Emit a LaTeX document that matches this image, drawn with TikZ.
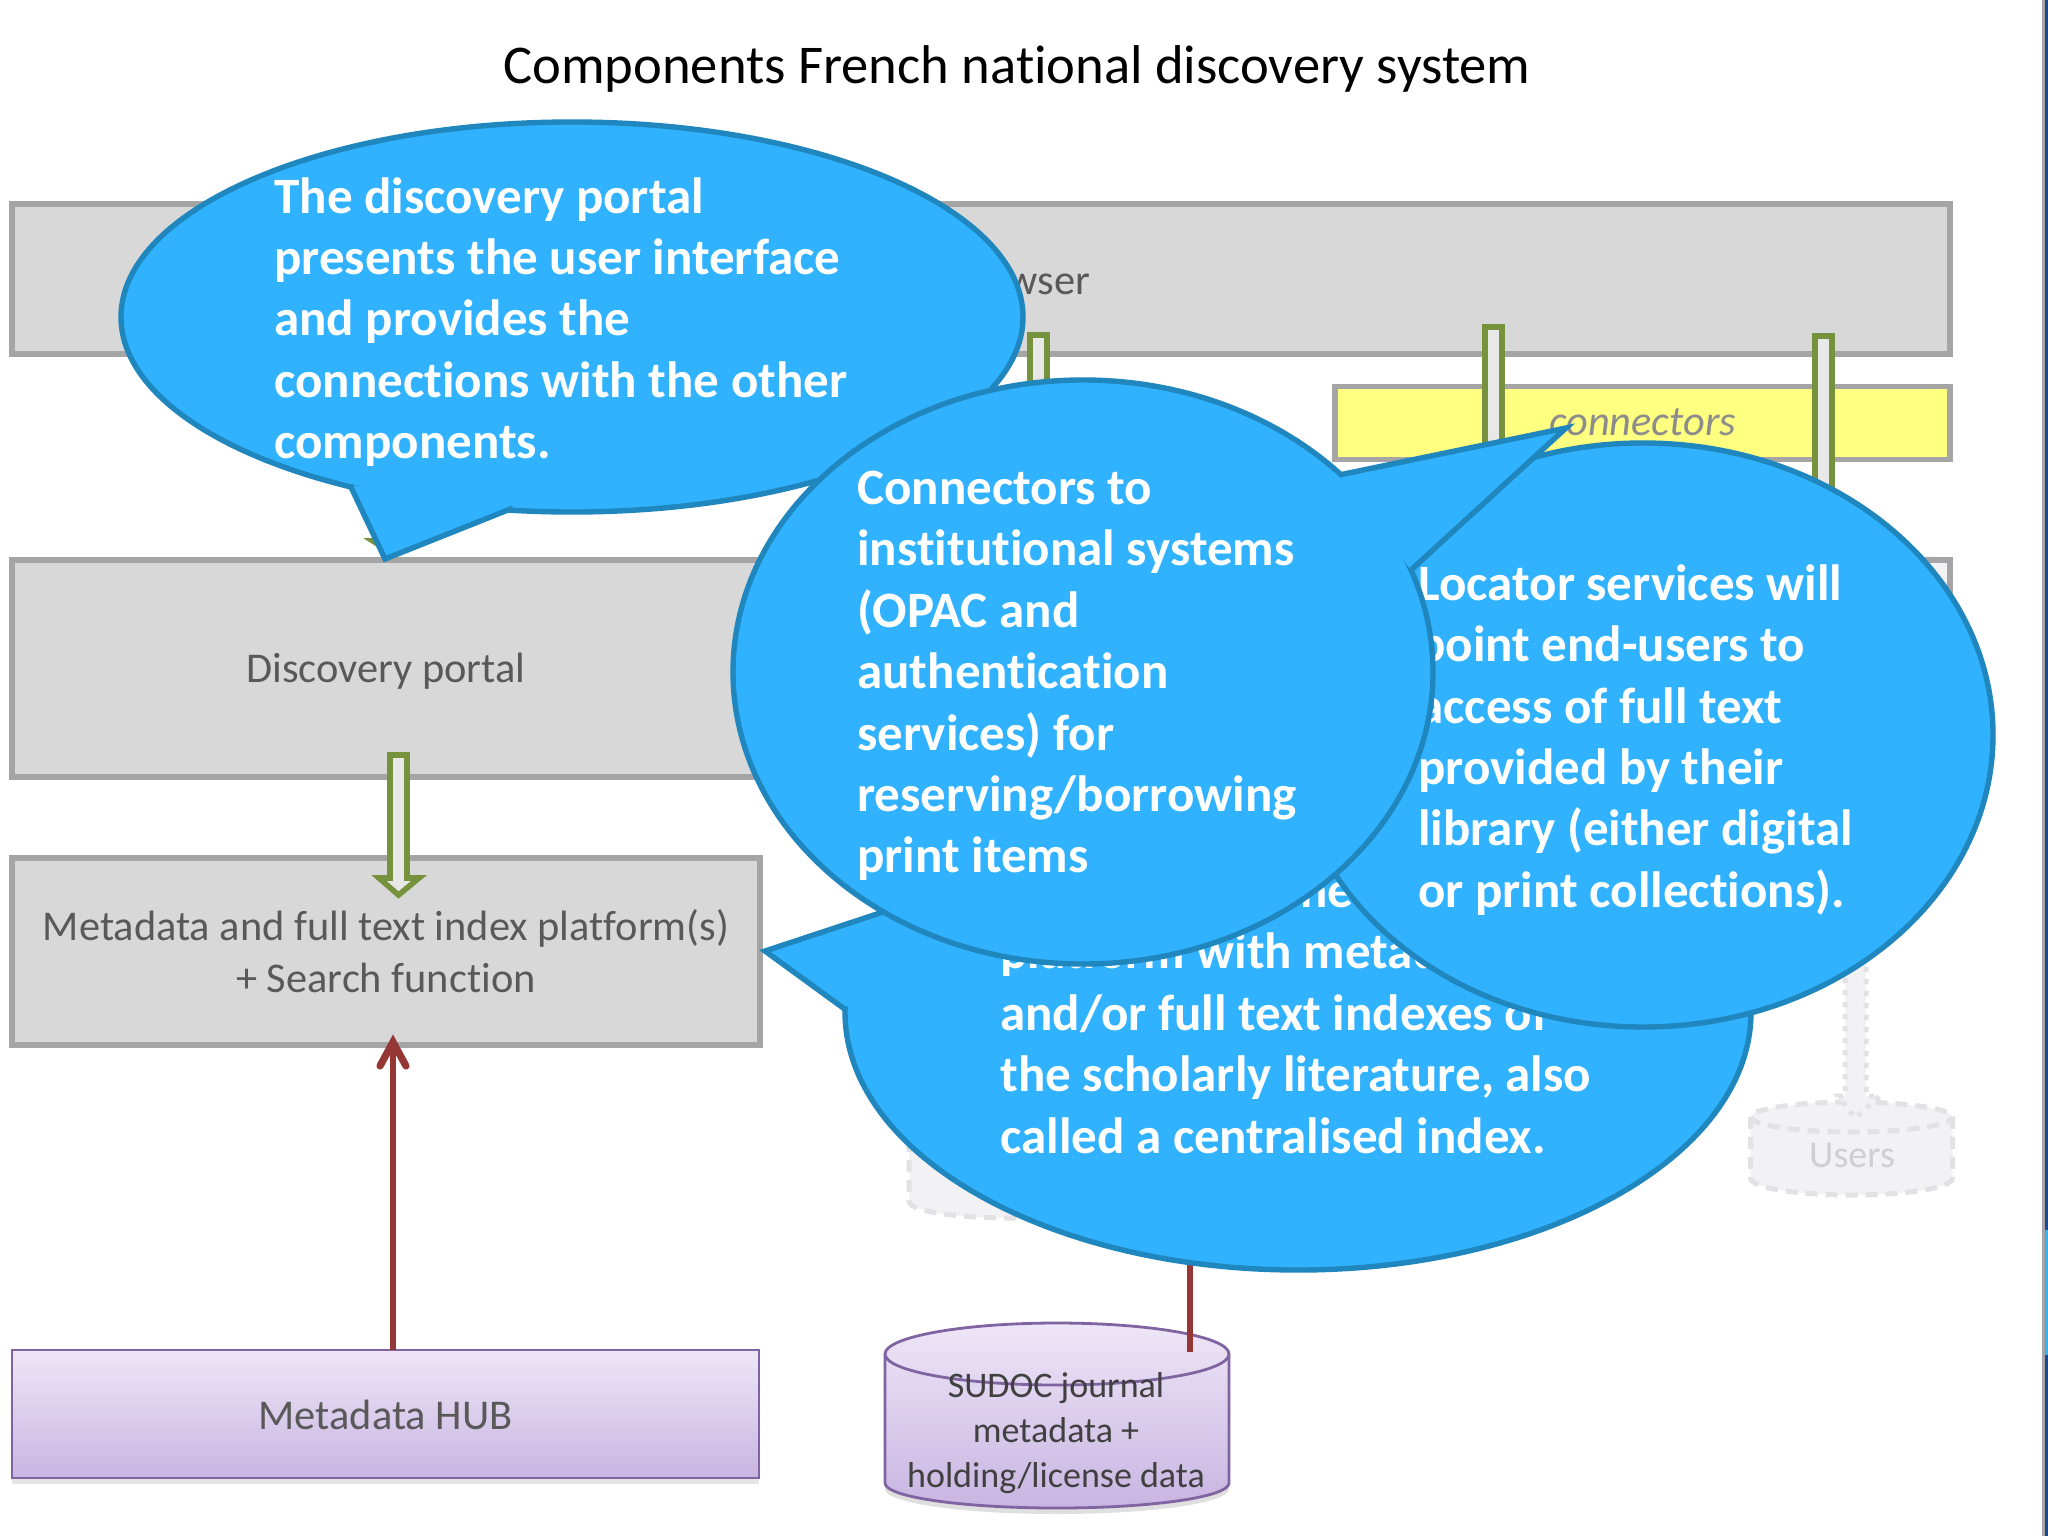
\documentclass[tikz,border=0pt]{standalone}
\usepackage{fontspec}
\setmainfont{Carlito}[Ligatures=NoCommon]
\usetikzlibrary{shapes.geometric,arrows.meta,shadows}

\definecolor{boxfill}{HTML}{D9D8D9}
\definecolor{boxline}{HTML}{A6A5A6}
\definecolor{boxtext}{HTML}{595959}
\definecolor{olive}{HTML}{76923C}
\definecolor{brick}{HTML}{953735}
\definecolor{hubline}{HTML}{8064A2}
\definecolor{hubtop}{HTML}{EEE6F7}
\definecolor{hubbot}{HTML}{C8B5E2}
\definecolor{bubfill}{HTML}{30B2FF}
\definecolor{bubline}{HTML}{1F86BE}
\definecolor{faint}{HTML}{F2F2F4}
\definecolor{faintline}{HTML}{E2E1E4}
\definecolor{faintext}{HTML}{CFCFD3}
\definecolor{connfill}{HTML}{FFFF80}
\definecolor{edgedark}{HTML}{1B4A94}
\definecolor{edgelight}{HTML}{3BAEEE}

\tikzset{
  box/.style={draw=boxline,fill=boxfill,line width=2.8pt,inner sep=0pt,outer sep=0pt,
    text=boxtext,align=center,font=\fontsize{21.2}{26}\selectfont},
  hub/.style={draw=hubline,line width=1.4pt,top color=hubtop,bottom color=hubbot,
    inner sep=0pt,outer sep=0pt,text=boxtext,font=\fontsize{21.2}{26}\selectfont},
  label/.style={text=boxtext,inner sep=0pt,font=\fontsize{21.2}{26}\selectfont},
  block/.style={draw=olive,fill=boxfill!60!white,line width=2.8pt,miter limit=10},
  redline/.style={draw=brick,line width=3pt},
  bubble/.style={ellipse,draw=bubline,fill=bubfill,line width=2.7pt,inner sep=0pt,outer sep=0pt},
  bubtext/.style={anchor=west,inner sep=0pt,align=left,text=white,
    font=\fontsize{25.5}{30.7}\selectfont\bfseries},
  cylline/.style={draw=hubline,line width=1.4pt},
}

% tail of a callout: covers the ellipse outline between the two base points
\newcommand{\bubtail}[3]{
  \fill[bubfill] (#1) -- (#2) -- (#3) -- cycle;
  \draw[bubline,line width=2.7pt,line join=miter] (#1) -- (#2) -- (#3);
}
% greyed out, dashed cylinder, #1 is the centre of its top
\newcommand{\fadedcyl}[1]{
  \begin{scope}[shift={#1}]
    \draw[faintline,fill=faint,line width=2.5pt,dash pattern=on 6pt off 4pt]
      (-101,0) -- (-101,61) .. controls (-101,71) and (-55,78) .. (0,78)
      .. controls (55,78) and (101,71) .. (101,61) -- (101,0)
      .. controls (101,-8) and (55,-15) .. (0,-15)
      .. controls (-55,-15) and (-101,-8) .. (-101,0) -- cycle;
    \draw[faintline,line width=2.5pt,dash pattern=on 6pt off 4pt]
      (-101,0) .. controls (-101,8) and (-55,15) .. (0,15)
      .. controls (55,15) and (101,8) .. (101,0);
  \end{scope}
}

\begin{document}
\begin{tikzpicture}[x=0.5pt,y=-0.5pt]
\useasboundingbox (0,0) rectangle (2048,1536);
\fill[white] (0,0) rectangle (2048,1536);

% slide edge
\fill[boxline] (2042,0) rectangle (2044.5,1536);
\fill[edgedark] (2044.5,0) rectangle (2048,1536);
\fill[edgelight] (2044.5,1230) rectangle (2048,1355);

\node[text=black,inner sep=0pt,font=\fontsize{27.3}{34}\selectfont] (title) at (1017,69)
  {Components French national discovery system};

% boxes
\node[box,minimum width=969pt,minimum height=74.75pt] (browser) at (981,279) {};
\node[label] (browsertext) at (1019,281) {Browser};
\node[box,minimum width=307.5pt,minimum height=36.5pt,fill=connfill,
  text=black!45,font=\fontsize{21.2}{26}\selectfont\itshape] (conn) at (1642.5,423) {\raisebox{-6pt}[0pt][0pt]{connectors}};
\node[box,minimum width=275pt,minimum height=108.5pt,fill=faint] (locbox) at (1675,668.5) {};
\node[box,minimum width=374pt,minimum height=108.5pt] (portal) at (386,668.5) {\raisebox{-7pt}[0pt][0pt]{Discovery portal}};
\node[box,minimum width=374pt,minimum height=93.5pt] (index) at (386,951.5)
  {Metadata and full text index platform(s)\\+ Search function};
\node[hub,drop shadow={shadow xshift=0pt,shadow yshift=-3pt,opacity=.2},
  minimum width=373.5pt,minimum height=64pt] (hub) at (385.5,1414) {\raisebox{-7.5pt}[0pt][0pt]{Metadata HUB}};

% block arrows
\draw[block] (385,350) -- (403,350) -- (403,541) -- (418,541) -- (392,553)
  -- (373,541) -- (385,541) -- cycle;
\draw[block] (390,755) -- (407,755) -- (407,878) -- (419,878) -- (398.5,895)
  -- (379,878) -- (390,878) -- cycle;
\draw[block] (1030,335) -- (1047,335) -- (1047,500) -- (1030,500) -- cycle;
\draw[block] (1485,327) -- (1502,327) -- (1502,490) -- (1485,490) -- cycle;
\draw[block] (1815,336) -- (1832,336) -- (1832,540) -- (1815,540) -- cycle;

% red connectors
\coordinate (indexin) at (393,1042);
\draw[redline] (hub.north -| indexin) -- (indexin);
\draw[redline,line width=3.6pt,line cap=round,line join=miter]
  ([shift={(-13,24)}]indexin) -- (indexin) -- ([shift={(13,24)}]indexin);

% SUDOC cylinder
\draw[cylline,top color=hubtop,bottom color=hubbot,
  drop shadow={shadow xshift=0pt,shadow yshift=-3pt,opacity=.25}]
  (885,1354) -- (885,1483) .. controls (885,1497) and (962,1508) .. (1057,1508)
  .. controls (1152,1508) and (1229,1497) .. (1229,1483) -- (1229,1354)
  .. controls (1229,1337) and (1152,1323) .. (1057,1323)
  .. controls (962,1323) and (885,1337) .. (885,1354) -- cycle;
\draw[cylline] (885,1354) .. controls (885,1371) and (962,1385) .. (1057,1385)
  .. controls (1152,1385) and (1229,1371) .. (1229,1354);
\node[inner sep=0pt,align=center,text=black!75,font=\fontsize{18}{22.5}\selectfont]
  (sudoc) at (1056,1433) {SUDOC journal\\metadata +\\holding/license data};
\coordinate (sudocin) at (1190,1352);
\coordinate (sudocout) at (1190,1240);
\draw[redline] (sudocout) -- (sudocin);

% greyed out parts
\fadedcyl{(1010,1140)}
\fadedcyl{(1851.5,1117)}
\node[text=faintext,inner sep=0pt,font=\fontsize{19}{26}\selectfont] (users) at (1852,1155) {Users};
\draw[draw=faintline,fill=faint,line width=2.5pt,dash pattern=on 2.5pt off 3.5pt]
  (1845,940) -- (1866,940) -- (1866,1096) -- (1880,1096) -- (1855,1118)
  -- (1838,1096) -- (1845,1096) -- cycle;

% callouts
\node[bubble,minimum width=451pt,minimum height=195pt] (discbub) at (572,317) {};
\bubtail{350,485}{385,559}{513,508}
\node[bubtext] (disctext) at (274,322) {The discovery portal\\presents the user interface\\and provides the\\connections with the other\\components.};

\node[bubble,minimum width=453pt,minimum height=258pt] (metabub) at (1298,1012) {};
\bubtail{883,912}{765,951}{846,1010}
\node[bubtext] (metatext) at (1000,1018)
  {\hspace*{150pt}ne\\platform with metadata\\and/or full text indexes of\\the scholarly literature, also\\called a centralised index.};

\node[bubble,minimum width=350pt,minimum height=292pt] (locbub) at (1643,735) {};
\node[bubtext] (loctext) at (1418,740) {Locator services will\\point end-users to\\access of full text\\provided by their\\library (either digital\\or print collections).};

\node[bubble,minimum width=350pt,minimum height=292pt] (connbub) at (1083,672) {};
\bubtail{1339,475}{1566,428}{1411,570}
\node[bubtext] (conntext) at (857,676) {Connectors to\\institutional systems\\(OPAC and\\authentication\\services) for\\reserving/borrowing\\print items};
\end{tikzpicture}
\end{document}
